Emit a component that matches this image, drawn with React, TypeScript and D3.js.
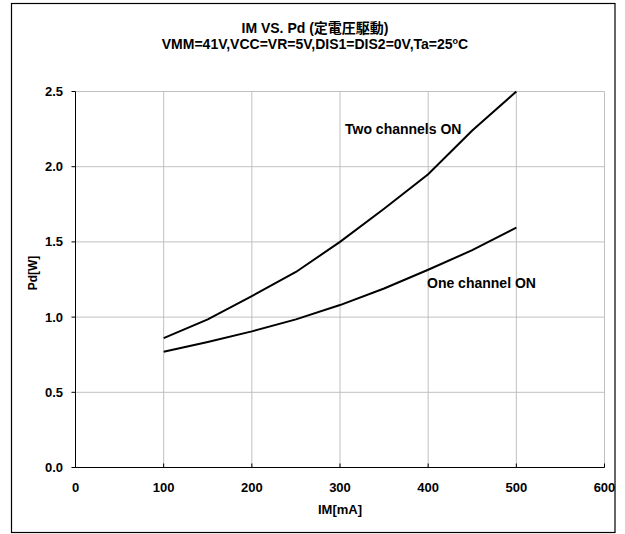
import React from "react";
import * as d3 from "d3";

const currents = [100, 150, 200, 250, 300, 350, 400, 450, 500];
const twoChannels = [0.86, 0.985, 1.14, 1.3, 1.5, 1.72, 1.95, 2.24, 2.5];
const oneChannel = [0.77, 0.835, 0.905, 0.985, 1.08, 1.19, 1.315, 1.445, 1.595];
const xTicks = [0, 100, 200, 300, 400, 500, 600];
const yTicks = [0, 0.5, 1.0, 1.5, 2.0, 2.5];

const titleLine1 = "IM VS. Pd (定電圧駆動)";
const xLabel = "IM[mA]";
const yLabel = "Pd[W]";
const twoLabel = "Two channels ON";
const oneLabel = "One channel ON";

export default function App() {
  const W = 625, H = 534;
  const x = d3.scaleLinear().domain([0, 600]).range([75.5, 604.5]);
  const y = d3.scaleLinear().domain([0, 2.5]).range([467.5, 91.5]);
  const line = d3
    .line<[number, number]>()
    .x((d) => x(d[0]))
    .y((d) => y(d[1]));
  const twoPts = currents.map((c, i) => [c, twoChannels[i]] as [number, number]);
  const onePts = currents.map((c, i) => [c, oneChannel[i]] as [number, number]);
  const font = "'Liberation Sans', Arial, 'Noto Sans CJK JP', sans-serif";
  return (
    <svg
      width={W}
      height={H}
      style={{ position: "absolute", left: 0, top: 0, background: "#fff" }}
      fontFamily={font}
    >
      <rect x={11.5} y={3.5} width={603.5} height={529} fill="#fff" stroke="#000" strokeWidth={1.2} />
      <text x={315} y={33} textAnchor="middle" fontSize={14} fontWeight="bold">
        {titleLine1}
      </text>
      <text x={315} y={49} textAnchor="middle" fontSize={14} fontWeight="bold">
        VMM=41V,VCC=VR=5V,DIS1=DIS2=0V,Ta=25
        <tspan dy={-5} fontSize={9}>o</tspan>
        <tspan dy={5}>C</tspan>
      </text>
      {xTicks.slice(1).map((t) => (
        <line key={"gx" + t} x1={x(t)} x2={x(t)} y1={y(0)} y2={y(2.5)} stroke="#c0c0c0" strokeWidth={1} />
      ))}
      {yTicks.slice(1).map((t) => (
        <line key={"gy" + t} x1={x(0)} x2={x(600)} y1={y(t)} y2={y(t)} stroke="#c0c0c0" strokeWidth={1} />
      ))}
      <line x1={x(0)} x2={x(0)} y1={y(0)} y2={y(2.5)} stroke="#000" strokeWidth={1} />
      <line x1={x(0)} x2={x(600)} y1={y(0)} y2={y(0)} stroke="#000" strokeWidth={1.2} />
      {yTicks.map((t) => (
        <g key={"yt" + t}>
          <line x1={x(0) - 4} x2={x(0)} y1={y(t)} y2={y(t)} stroke="#000" />
          <text x={63} y={y(t) + 4.5} textAnchor="end" fontSize={13} fontWeight="bold">
            {t.toFixed(1)}
          </text>
        </g>
      ))}
      {xTicks.map((t) => (
        <g key={"xt" + t}>
          <line x1={x(t)} x2={x(t)} y1={y(0)} y2={y(0) - 4} stroke="#000" />
          <text x={x(t)} y={492} textAnchor="middle" fontSize={13} fontWeight="bold">
            {t}
          </text>
        </g>
      ))}
      <text x={340} y={514} textAnchor="middle" fontSize={13} fontWeight="bold">
        {xLabel}
      </text>
      <text
        transform={`translate(37, 273) rotate(-90)`}
        textAnchor="middle"
        fontSize={12}
        fontWeight="bold"
      >
        {yLabel}
      </text>
      <path d={line(twoPts) || ""} fill="none" stroke="#000" strokeWidth={2} />
      <path d={line(onePts) || ""} fill="none" stroke="#000" strokeWidth={2} />
      <text x={345} y={134} fontSize={14} fontWeight="bold">
        {twoLabel}
      </text>
      <text x={427} y={288} fontSize={14} fontWeight="bold">
        {oneLabel}
      </text>
    </svg>
  );
}
